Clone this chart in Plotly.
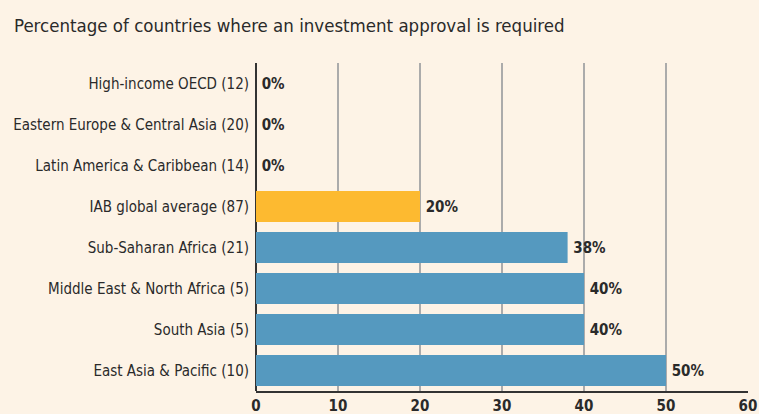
import plotly.graph_objects as go

categories = [
    "High-income OECD (12)",
    "Eastern Europe & Central Asia (20)",
    "Latin America & Caribbean (14)",
    "IAB global average (87)",
    "Sub-Saharan Africa (21)",
    "Middle East & North Africa (5)",
    "South Asia (5)",
    "East Asia & Pacific (10)",
]
values = [0, 0, 0, 20, 38, 40, 40, 50]
value_labels = ["0%", "0%", "0%", "20%", "38%", "40%", "40%", "50%"]
x_ticks = [0, 10, 20, 30, 40, 50, 60]

BLUE = "#5599BF"
ORANGE = "#FDBA30"
BG = "#FDF3E6"
TXT = "#2a2a2a"
FONT = "Liberation Sans Narrow, DejaVu Sans Condensed, Arial Narrow, sans-serif"

colors = [ORANGE if c.startswith("IAB") else BLUE for c in categories]

fig = go.Figure(
    go.Bar(
        x=values,
        y=categories,
        orientation="h",
        marker=dict(color=colors, line=dict(width=0)),
        text=value_labels,
        texttemplate="\u2009%{text}",
        textposition="outside",
        cliponaxis=False,
        textfont=dict(family=FONT, size=15, color=TXT, weight="bold"),
        hoverinfo="skip",
    )
)

fig.update_layout(
    width=759,
    height=414,
    paper_bgcolor=BG,
    plot_bgcolor=BG,
    margin=dict(l=256, r=11, t=63, b=23, autoexpand=False),
    bargap=0.24,
    showlegend=False,
    font=dict(family=FONT, color=TXT),
    title=dict(
        text="Percentage of countries where an investment approval is required",
        x=14 / 759,
        xanchor="left",
        xref="container",
        y=1 - 26 / 414,
        yanchor="middle",
        yref="container",
        font=dict(family=FONT, size=18.5, color=TXT),
    ),
)

fig.update_xaxes(
    range=[0, 60],
    automargin=False,
    tickvals=x_ticks,
    ticktext=[str(t) for t in x_ticks],
    showgrid=True,
    gridcolor="#ABABAB",
    gridwidth=1.5,
    zeroline=True,
    zerolinecolor="#333333",
    zerolinewidth=2,
    showline=True,
    linecolor="#333333",
    linewidth=2,
    ticks="",
    tickfont=dict(family=FONT, size=15, color=TXT, weight="bold"),
    fixedrange=True,
)
fig.update_yaxes(
    autorange="reversed",
    automargin=False,
    showgrid=False,
    ticks="",
    ticklabelstandoff=6,
    tickfont=dict(family=FONT, size=15, color=TXT),
    fixedrange=True,
)

fig.write_html(
    "out.html",
    config={"displayModeBar": False},
    post_script="document.body.style.margin='0';document.body.style.background='" + BG + "';",
)
